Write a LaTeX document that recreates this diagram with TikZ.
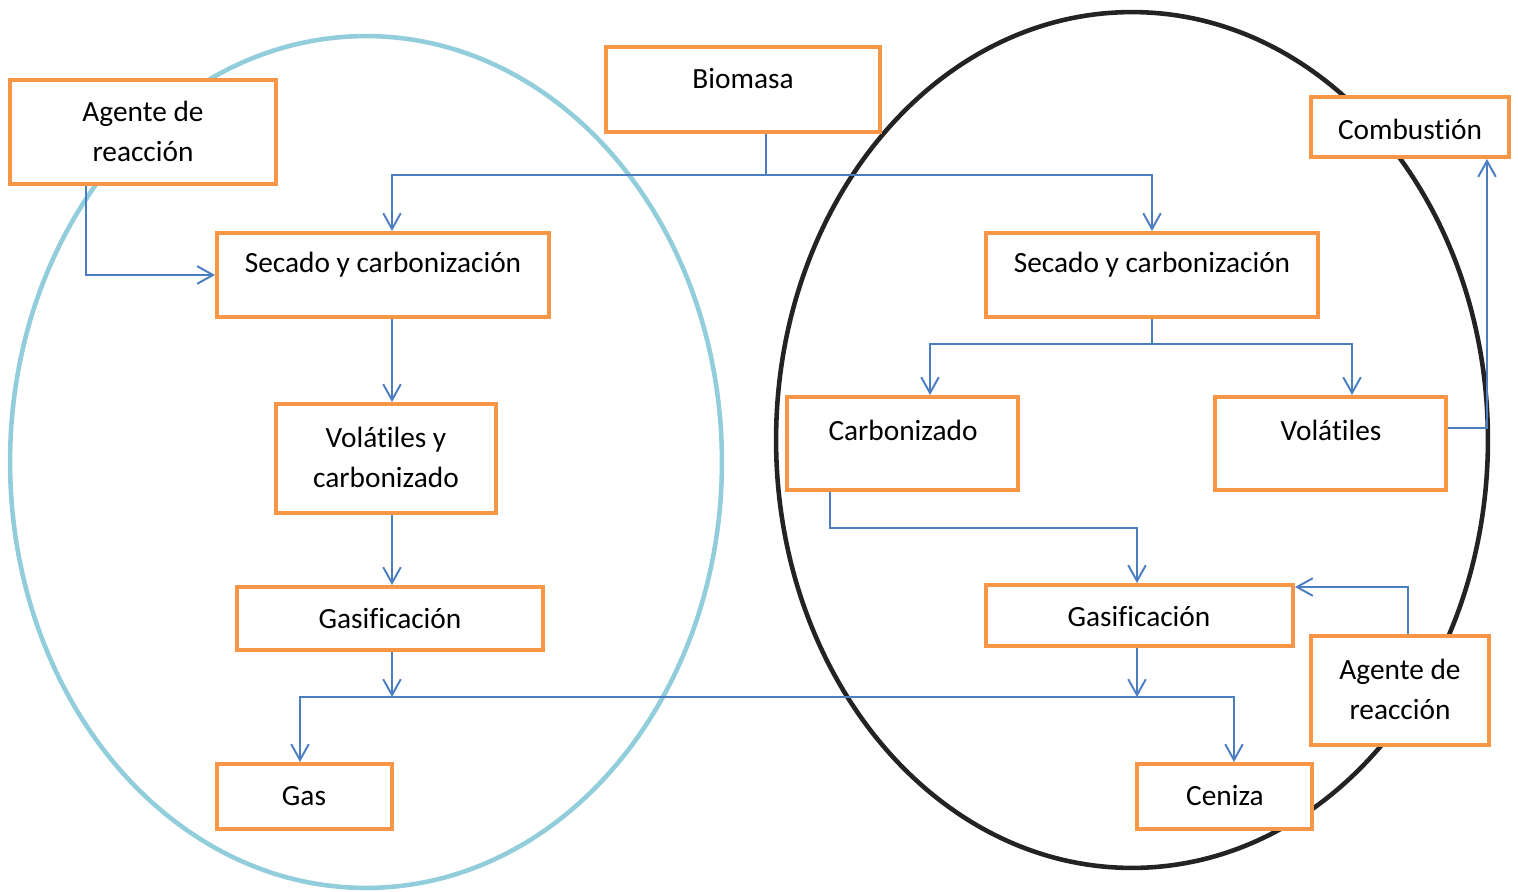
\documentclass[tikz,border=0pt]{standalone}
\usepackage{fontspec}
\setmainfont{Carlito}[Ligatures={NoCommon}]
\usetikzlibrary{arrows.meta}
\definecolor{boxorange}{RGB}{247,150,70}
\definecolor{connblue}{RGB}{74,126,193}
\definecolor{ellblue}{RGB}{146,205,220}
\definecolor{elldark}{RGB}{35,35,35}
\tikzset{
  box/.style={draw=boxorange, line width=2.3pt, fill=white, inner sep=0pt},
  txt/.style={font=\fontsize{16.7}{22.76}\selectfont, align=center, inner sep=0pt},
  cline/.style={draw=connblue, line width=1.1pt},
  arr/.style={cline, -{Straight Barb[length=9pt,width=10pt,line width=1.1pt]}},
}
\begin{document}
\begin{tikzpicture}[x=0.02cm,y=-0.02cm]
\useasboundingbox (0,0) rectangle (1518,892);
% ellipses
\draw[ellblue, line width=2.6pt] (366,462) ellipse [x radius=7.12cm, y radius=8.52cm];
\draw[elldark, line width=2.6pt] (1132,440) ellipse [x radius=7.12cm, y radius=8.56cm];
% boxes
\node[box, minimum width=5.32cm, minimum height=2.08cm] (agL) at (143,132) {};
\node[box, minimum width=5.48cm, minimum height=1.70cm] (bio) at (743,89.5) {};
\node[box, minimum width=3.96cm, minimum height=1.20cm] (comb) at (1410,127) {};
\node[box, minimum width=6.64cm, minimum height=1.68cm] (secL) at (383,275) {};
\node[box, minimum width=6.64cm, minimum height=1.68cm] (secR) at (1152,275) {};
\node[box, minimum width=4.40cm, minimum height=2.18cm] (vyc) at (386,458.5) {};
\node[box, minimum width=4.62cm, minimum height=1.86cm] (carb) at (902.5,443.5) {};
\node[box, minimum width=4.62cm, minimum height=1.86cm] (vol) at (1330.5,443.5) {};
\node[box, minimum width=6.12cm, minimum height=1.26cm] (gasL) at (390,618.5) {};
\node[box, minimum width=6.14cm, minimum height=1.22cm] (gasR) at (1139.5,615.5) {};
\node[box, minimum width=3.56cm, minimum height=2.18cm] (agR) at (1400,690.5) {};
\node[box, minimum width=3.50cm, minimum height=1.30cm] (gas) at (304.5,796.5) {};
\node[box, minimum width=3.50cm, minimum height=1.30cm] (cen) at (1224.5,796.5) {};
% texts
\node[txt] (tagL) at (143,131) {Agente de\\reacción};
\node[txt] (tbio) at (743,79) {Biomasa};
\node[txt] (tcomb) at (1410,129) {Combustión};
\node[txt] (tsecL) at (383,265) {Secado y carbonización};
\node[txt] (tsecR) at (1152,265) {Secado y carbonización};
\node[txt] (tvyc) at (386,457) {Volátiles y\\carbonizado};
\node[txt] (tcarb) at (903,430) {Carbonizado};
\node[txt] (tvol) at (1331,430) {Volátiles};
\node[txt] (tgasL) at (390,619) {Gasificación};
\node[txt] (tgasR) at (1139,617) {Gasificación};
\node[txt] (tagR) at (1400,689) {Agente de\\reacción};
\node[txt] (tgas) at (304,796) {Gas};
\node[txt] (tcen) at (1225,796) {Ceniza};
% connectors
\coordinate (bj) at (766,175);
\coordinate (sj) at (1152,344);
\coordinate (hj) at (766,697);
\draw[cline] (766,0 |- bio.south) -- (bj);
\draw[arr] (bj) -| (392,0 |- secL.north);
\draw[arr] (bj) -| (1152,0 |- secR.north);
\draw[arr] (86,0 |- agL.south) |- (secL.west);
\draw[arr] (392,0 |- secL.south) -- (392,0 |- vyc.north);
\draw[arr] (392,0 |- vyc.south) -- (392,0 |- gasL.north);
\draw[arr] (392,0 |- gasL.south) -- (392,697);
\draw[arr] (hj) -| (300,0 |- gas.north);
\draw[arr] (hj) -| (1234,0 |- cen.north);
\draw[arr] (1137,0 |- gasR.south) -- (1137,697);
\draw[cline] (1152,0 |- secR.south) -- (sj);
\draw[arr] (sj) -| (930,0 |- carb.north);
\draw[arr] (sj) -| (1352,0 |- vol.north);
\draw[arr] (830,0 |- carb.south) |- (1137,528) -- (1137,0 |- gasR.north);
\draw[arr] (vol.east |- 0,428) -| (1487,0 |- comb.south);
\draw[arr] (1408,0 |- agR.north) |- (gasR.east |- 0,587);
\end{tikzpicture}
\end{document}
